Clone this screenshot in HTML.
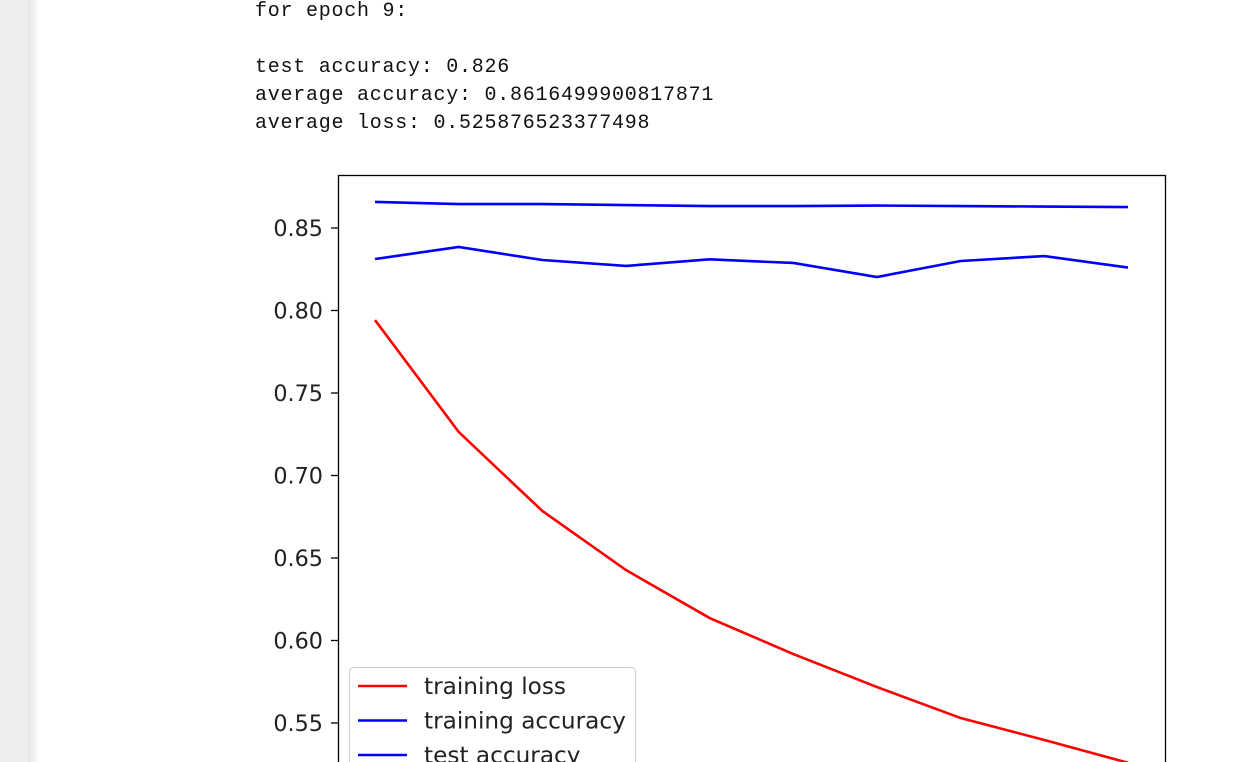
<!DOCTYPE html>
<html><head><meta charset="utf-8"><style>
html,body{margin:0;padding:0;width:1246px;height:762px;overflow:hidden;background:#fff;position:relative}
#side{position:absolute;left:0;top:0;width:28px;height:762px;background:#eeeeee}
#shadow{position:absolute;left:28px;top:0;width:10px;height:762px;background:linear-gradient(to right,#e6e6e6,#fafafa)}
#out{position:absolute;left:255px;top:0;font-family:"Liberation Mono",monospace;font-size:20px;letter-spacing:0.75px;line-height:28px;color:#111;white-space:pre}
svg{position:absolute;left:0;top:0}
</style></head><body>
<div id="side"></div>
<div id="shadow"></div>
<div id="out" style="top:-2px">for epoch 9:

test accuracy: 0.826
average accuracy: 0.8616499900817871
average loss: 0.525876523377498</div>
<svg id="chart" width="1246" height="762"></svg>
<script>
const epochs=[0,1,2,3,4,5,6,7,8,9];
const trainLoss=[0.7942,0.7264,0.6785,0.6427,0.6136,0.5918,0.5718,0.553,0.5397,0.5259];
const trainAcc=[0.8658,0.8645,0.8645,0.8639,0.8633,0.8633,0.8636,0.8633,0.863,0.8627];
const testAcc=[0.8312,0.8385,0.8306,0.827,0.831,0.8288,0.8203,0.83,0.833,0.826];
const yTicks=[0.85,0.80,0.75,0.70,0.65,0.60,0.55];
const yTickLabels=["0.85","0.80","0.75","0.70","0.65","0.60","0.55"];
const legendLabels=["training loss","training accuracy","test accuracy"];
const NS="http://www.w3.org/2000/svg";
const svg=document.getElementById('chart');
const X=i=>375+(1128-375)*i/9;
const Y=v=>228+(0.85-v)/0.05*82.5;
function mk(t,a){const e=document.createElementNS(NS,t);for(const k in a)e.setAttribute(k,a[k]);svg.appendChild(e);return e;}
const frame=mk('rect',{x:338.5,y:175.5,width:827,height:600,fill:'none',stroke:'#000','stroke-width':1.3});


yTicks.forEach((v,i)=>{
 const t=mk('line',{x1:331,x2:338,y1:Y(v),y2:Y(v),stroke:'#000','stroke-width':1.3});
 
 
 const l=mk('text',{x:323,y:Y(v)+8,'text-anchor':'end','font-family':'DejaVu Sans, sans-serif','font-size':22.3,fill:'#222'});
 l.textContent=yTickLabels[i];
 
 
});
function series(arr,color,name){
 const p=mk('polyline',{points:arr.map((v,i)=>X(epochs[i])+','+Y(v)).join(' '),fill:'none',stroke:color,'stroke-width':2.6});
 
 
}
series(trainAcc,'#0000ff','training-accuracy-line');
series(testAcc,'#0000ff','test-accuracy-line');
series(trainLoss,'#ff0000','training-loss-line');
const lb=mk('rect',{x:349.5,y:667.5,width:286,height:120,rx:4,fill:'#fff','fill-opacity':0.85,stroke:'#ccc'});


const lc=['#ff0000','#0000ff','#0000ff'];
legendLabels.forEach((s,i)=>{
 const y=686+i*34.5;
 const ln=mk('line',{x1:358,x2:407,y1:y,y2:y,stroke:lc[i],'stroke-width':2.6});
 
 
 const t=mk('text',{x:424,y:y+8,'font-family':'DejaVu Sans, sans-serif','font-size':23.2,fill:'#222'});
 t.textContent=s;
 
 
});
</script>
</body></html>
